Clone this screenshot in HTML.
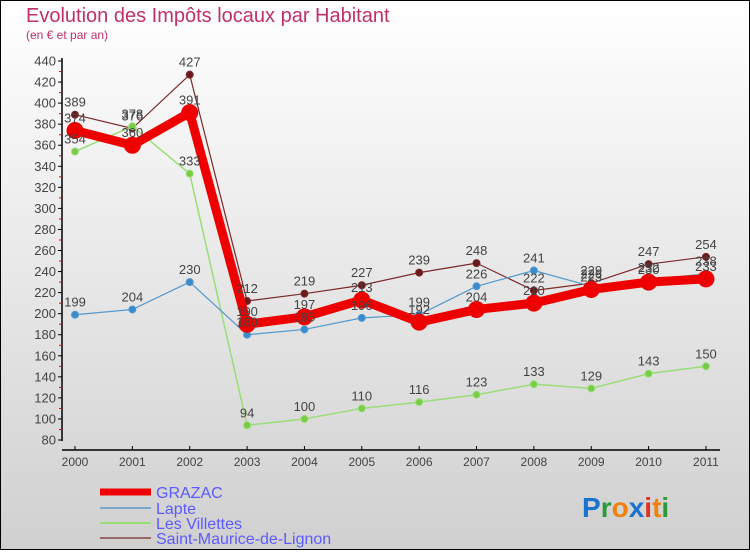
<!DOCTYPE html>
<html><head><meta charset="utf-8"><style>
body{margin:0;width:750px;height:550px;overflow:hidden;font-family:"Liberation Sans",sans-serif}
</style></head><body>
<svg id="chart" width="750" height="550" xmlns="http://www.w3.org/2000/svg">
<defs><linearGradient id="bg" x1="0" y1="0" x2="0" y2="1"><stop offset="0" stop-color="#ffffff"/><stop offset="1" stop-color="#d0d0d0"/></linearGradient></defs>
<rect x="0.5" y="0.5" width="749" height="549" fill="url(#bg)" stroke="#000"/>
<text x="26" y="22" font-size="20" fill="#c0306a">Evolution des Impôts locaux par Habitant</text>
<text x="26" y="39" font-size="12" fill="#c0306a">(en € et par an)</text>
<g id="axes"></g><g id="series"></g><g id="labels"></g>
<g>
<line x1="100" y1="492" x2="151" y2="492" stroke="#e00" stroke-width="7"/>
<text x="156" y="498" font-size="16" fill="#5b5bff">GRAZAC</text>
<line x1="100" y1="508" x2="151" y2="508" stroke="#7aa8cf" stroke-width="2"/>
<text x="156" y="514" font-size="16" fill="#5b5bff">Lapte</text>
<line x1="100" y1="523" x2="151" y2="523" stroke="#99dd77" stroke-width="2"/>
<text x="156" y="529" font-size="16" fill="#5b5bff">Les Villettes</text>
<line x1="100" y1="538" x2="151" y2="538" stroke="#996666" stroke-width="2"/>
<text x="156" y="544" font-size="16" fill="#5b5bff">Saint-Maurice-de-Lignon</text>
</g>
<text x="582" y="517" font-size="28" font-weight="bold"><tspan fill="#1a73d0">P</tspan><tspan fill="#2a9a3a">r</tspan><tspan fill="#f08010">o</tspan><tspan fill="#1a73d0">x</tspan><tspan fill="#e03020">i</tspan><tspan fill="#f08010">t</tspan><tspan fill="#2a9a3a">i</tspan></text>
</svg>
<script>
const years=["2000","2001","2002","2003","2004","2005","2006","2007","2008","2009","2010","2011"];
const yTicks=[80,100,120,140,160,180,200,220,240,260,280,300,320,340,360,380,400,420,440];
const grazac=[374,360,391,190,197,213,192,204,210,223,230,233];
const lapte=[199,204,230,180,185,196,199,226,241,226,232,238];
const villettes=[354,378,333,94,100,110,116,123,133,129,143,150];
const stMaurice=[389,376,427,212,219,227,239,248,222,229,247,254];
const NS="http://www.w3.org/2000/svg";
const xs=i=>75+i*57.36;
const ys=v=>440-(v-80)*(379/360);
function mk(tag,attrs,parent,txt){const e=document.createElementNS(NS,tag);for(const k in attrs)e.setAttribute(k,attrs[k]);if(txt!==undefined)e.textContent=txt;parent.appendChild(e);return e;}
const ax=document.getElementById('axes');
let e=mk('line',{x1:62,y1:58,x2:62,y2:441,stroke:'#000','stroke-width':1.5},ax);


e=mk('line',{x1:62,y1:450,x2:720,y2:450,stroke:'#000','stroke-width':1.5},ax);


yTicks.forEach((t,i)=>{const y=ys(t);
 mk('line',{x1:58,y1:y,x2:62,y2:y,stroke:'#000'},ax);
 if(i<yTicks.length-1){mk('line',{x1:59,y1:y-10.5,x2:62,y2:y-10.5,stroke:'#e00'},ax);}
 e=mk('text',{x:56,y:y+4.5,'font-size':13,fill:'#444','text-anchor':'end'},ax,t);
 
 
});
years.forEach((yr,i)=>{const x=xs(i);
 mk('line',{x1:x,y1:446,x2:x,y2:450,stroke:'#000'},ax);
 e=mk('text',{x:x,y:466,'font-size':12,fill:'#444','text-anchor':'middle'},ax,yr);
 
 
});
const sg=document.getElementById('series'),lg=document.getElementById('labels');
function draw(data,name,color,w,r,dot){
 const g=mk('g',{},sg);
 
 
 const pl=mk('polyline',{points:data.map((v,i)=>xs(i)+','+ys(v)).join(' '),fill:'none',stroke:color,'stroke-width':w,'stroke-linejoin':'round'},g);
 
 
 data.forEach((v,i)=>{
  const c=mk('circle',{cx:xs(i),cy:ys(v),r:r,fill:dot,stroke:color,'stroke-width':1},g);
  
  
  const t=mk('text',{x:xs(i),y:ys(v)-8,'font-size':13,fill:'#444','text-anchor':'middle'},lg,v);
  
  
 });
}
draw(stMaurice,'saint-maurice','#7a2a2a',1.2,3.5,'#6a1a1a');
draw(villettes,'villettes','#99dd77',1.5,3.5,'#77cc44');
draw(lapte,'lapte','#5599cc',1.2,3.5,'#3a8ad0');
draw(grazac,'grazac','#ee0000',9,8,'#ee0000');
</script>
</body></html>
